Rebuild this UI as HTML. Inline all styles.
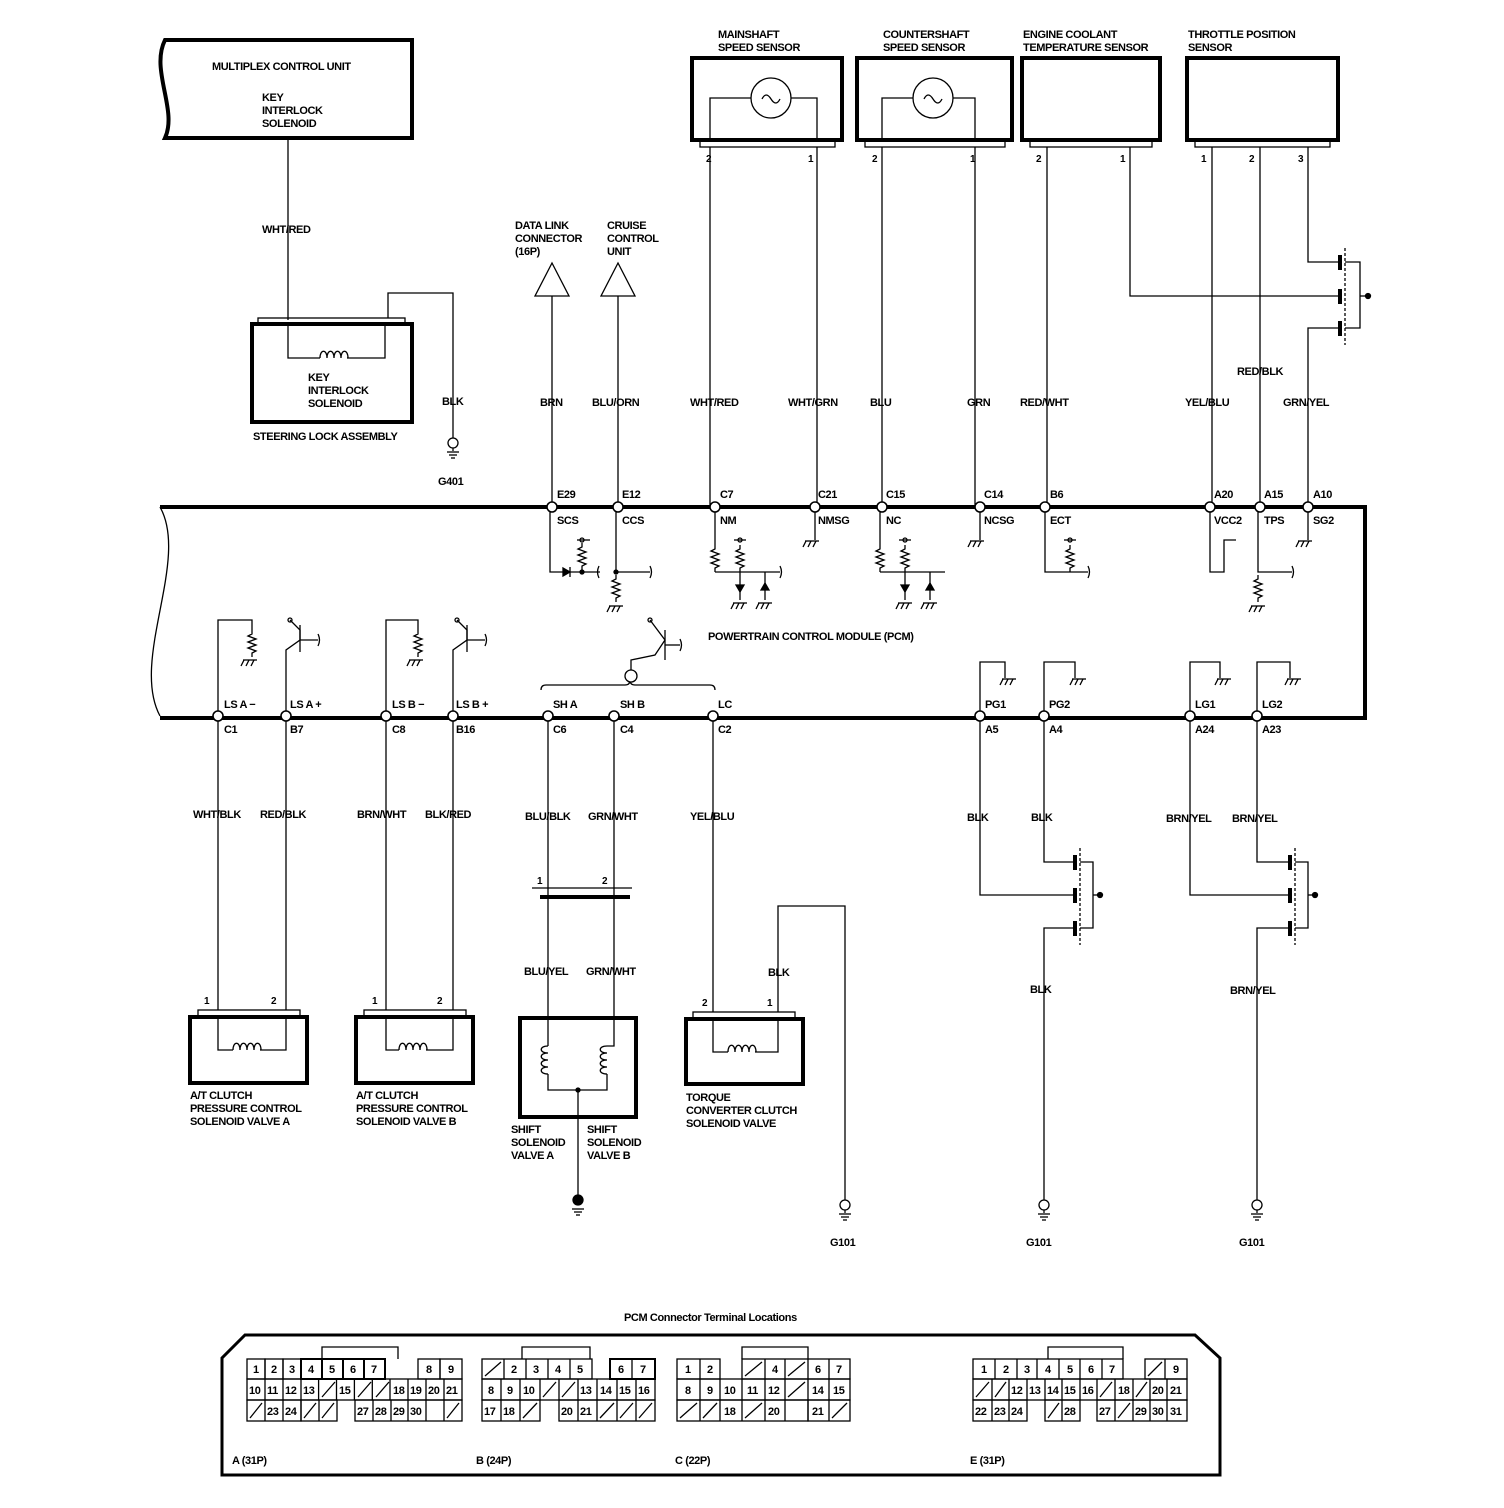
<!DOCTYPE html>
<html><head><meta charset="utf-8"><style>
html,body{margin:0;padding:0;background:#fff}
svg{display:block}
text{font-family:"Liberation Sans",sans-serif;font-weight:bold;font-size:11px;letter-spacing:-0.4px;fill:#000}
.n{font-size:10px}
</style></head><body>
<svg width="1504" height="1508" viewBox="0 0 1504 1508" xmlns="http://www.w3.org/2000/svg" fill="none" stroke="#000" stroke-width="1.3">
<defs>
<g id="gnd"><line x1="-7" y1="0" x2="7" y2="0"/><line x1="-6" y1="0" x2="-9" y2="6"/><line x1="-1" y1="0" x2="-4" y2="6"/><line x1="4" y1="0" x2="1" y2="6"/></g>
<g id="eg"><circle cx="0" cy="0" r="5" fill="#fff"/><line x1="0" y1="5" x2="0" y2="8"/><line x1="-6" y1="9" x2="6" y2="9"/><line x1="-4" y1="12" x2="4" y2="12"/><line x1="-2" y1="15" x2="2" y2="15"/></g>
<g id="res"><polyline points="0,0 0,4 -4,6 4,9 -4,12 4,15 -4,18 4,21 0,23 0,27"/></g>
<g id="coil"><path d="M-13,0 c0,-9 7,-9 7,0 c0,-9 7,-9 7,0 c0,-9 7,-9 7,0 c0,-9 7,-9 7,0"/></g>
<g id="vcoil"><path d="M0,-14 c-9,0 -9,7 0,7 c-9,0 -9,7 0,7 c-9,0 -9,7 0,7 c-9,0 -9,7 0,7"/></g>
<g id="nd"><circle cx="0" cy="0" r="5" fill="#fff" stroke-width="1.6"/></g>
</defs>

<!-- Multiplex control unit -->
<path d="M165,40 H412 V138 H165 C178,110 150,70 165,40 Z" stroke-width="4"/>
<text x="212" y="70" stroke="none">MULTIPLEX CONTROL UNIT</text>
<text x="262" y="101" stroke="none">KEY</text>
<text x="262" y="114" stroke="none">INTERLOCK</text>
<text x="262" y="127" stroke="none">SOLENOID</text>
<line x1="288" y1="138" x2="288" y2="320"/>
<text x="262" y="233" stroke="none">WHT/RED</text>

<!-- Steering lock -->
<rect x="252" y="324" width="160" height="98" stroke-width="4"/>
<rect x="258" y="318" width="147" height="6"/>
<polyline points="288,324 288,358 320,358"/>
<use href="#coil" x="333" y="358"/>
<polyline points="347,358 385,358 385,324"/>
<polyline points="388,318 388,293 453,293 453,438"/>
<text x="308" y="381" stroke="none">KEY</text>
<text x="308" y="394" stroke="none">INTERLOCK</text>
<text x="308" y="407" stroke="none">SOLENOID</text>
<text x="253" y="440" stroke="none">STEERING LOCK ASSEMBLY</text>
<text x="442" y="405" stroke="none">BLK</text>
<use href="#eg" x="453" y="443"/>
<text x="438" y="485" stroke="none">G401</text>

<!-- DLC & cruise -->
<text x="515" y="229" stroke="none">DATA LINK</text>
<text x="515" y="242" stroke="none">CONNECTOR</text>
<text x="515" y="255" stroke="none">(16P)</text>
<polygon points="552,263 535,296 569,296"/>
<line x1="552" y1="296" x2="552" y2="507"/>
<text x="607" y="229" stroke="none">CRUISE</text>
<text x="607" y="242" stroke="none">CONTROL</text>
<text x="607" y="255" stroke="none">UNIT</text>
<polygon points="618,263 601,296 635,296"/>
<line x1="618" y1="296" x2="618" y2="507"/>

<!-- Sensors -->
<text x="718" y="38" stroke="none">MAINSHAFT</text><text x="718" y="51" stroke="none">SPEED SENSOR</text>
<rect x="692" y="58" width="150" height="82" stroke-width="4"/>
<rect x="700" y="140" width="135" height="7"/>
<polyline points="710,140 710,98 751,98"/><circle cx="771" cy="98" r="20"/><path d="M762,99 q4,-8 9,0 q5,8 9,0"/>
<polyline points="791,98 817,98 817,140"/>
<text x="706" y="162" class="n" stroke="none">2</text><text x="808" y="162" class="n" stroke="none">1</text>

<text x="883" y="38" stroke="none">COUNTERSHAFT</text><text x="883" y="51" stroke="none">SPEED SENSOR</text>
<rect x="857" y="58" width="155" height="82" stroke-width="4"/>
<rect x="865" y="140" width="140" height="7"/>
<polyline points="882,140 882,98 913,98"/><circle cx="933" cy="98" r="20"/><path d="M924,99 q4,-8 9,0 q5,8 9,0"/>
<polyline points="953,98 975,98 975,140"/>
<text x="872" y="162" class="n" stroke="none">2</text><text x="970" y="162" class="n" stroke="none">1</text>

<text x="1023" y="38" stroke="none">ENGINE COOLANT</text><text x="1023" y="51" stroke="none">TEMPERATURE SENSOR</text>
<rect x="1022" y="58" width="138" height="82" stroke-width="4"/>
<rect x="1030" y="140" width="122" height="7"/>
<text x="1036" y="162" class="n" stroke="none">2</text><text x="1120" y="162" class="n" stroke="none">1</text>

<text x="1188" y="38" stroke="none">THROTTLE POSITION</text><text x="1188" y="51" stroke="none">SENSOR</text>
<rect x="1187" y="58" width="151" height="82" stroke-width="4"/>
<rect x="1195" y="140" width="135" height="7"/>
<text x="1201" y="162" class="n" stroke="none">1</text><text x="1249" y="162" class="n" stroke="none">2</text><text x="1298" y="162" class="n" stroke="none">3</text>

<!-- sensor wires -->
<line x1="710" y1="147" x2="710" y2="507"/>
<line x1="817" y1="147" x2="817" y2="507"/>
<line x1="882" y1="147" x2="882" y2="507"/>
<line x1="975" y1="147" x2="975" y2="507"/>
<line x1="1047" y1="147" x2="1047" y2="507"/>
<polyline points="1130,147 1130,296 1340,296"/>
<line x1="1212" y1="147" x2="1212" y2="507"/>
<line x1="1260" y1="147" x2="1260" y2="507"/>
<polyline points="1308,147 1308,262 1340,262"/>
<polyline points="1340,328 1308,328 1308,507"/>
<line x1="1345" y1="248" x2="1345" y2="345" stroke-dasharray="3,2"/>
<line x1="1340" y1="255" x2="1340" y2="270" stroke-width="4"/>
<line x1="1340" y1="289" x2="1340" y2="304" stroke-width="4"/>
<line x1="1340" y1="321" x2="1340" y2="336" stroke-width="4"/>
<polyline points="1345,262 1360,262 1360,328 1345,328"/>
<line x1="1360" y1="296" x2="1368" y2="296"/><circle cx="1368" cy="296" r="2.5" fill="#000"/>

<!-- upper wire labels -->
<text x="540" y="406" stroke="none">BRN</text>
<text x="592" y="406" stroke="none">BLU/ORN</text>
<text x="690" y="406" stroke="none">WHT/RED</text>
<text x="788" y="406" stroke="none">WHT/GRN</text>
<text x="870" y="406" stroke="none">BLU</text>
<text x="967" y="406" stroke="none">GRN</text>
<text x="1020" y="406" stroke="none">RED/WHT</text>
<text x="1185" y="406" stroke="none">YEL/BLU</text>
<text x="1237" y="375" stroke="none">RED/BLK</text>
<text x="1283" y="406" stroke="none">GRN/YEL</text>

<!-- PCM -->
<path d="M160,507 H1365 V718 H160" stroke-width="4"/>
<path d="M160,507 C190,560 130,660 160,716"/>
<text x="708" y="640" stroke="none">POWERTRAIN CONTROL MODULE (PCM)</text>

<!-- upper nodes -->
<g stroke="none">
<text x="557" y="498">E29</text><text x="557" y="524">SCS</text>
<text x="622" y="498">E12</text><text x="622" y="524">CCS</text>
<text x="720" y="498">C7</text><text x="720" y="524">NM</text>
<text x="818" y="498">C21</text><text x="818" y="524">NMSG</text>
<text x="886" y="498">C15</text><text x="886" y="524">NC</text>
<text x="984" y="498">C14</text><text x="984" y="524">NCSG</text>
<text x="1050" y="498">B6</text><text x="1050" y="524">ECT</text>
<text x="1214" y="498">A20</text><text x="1214" y="524">VCC2</text>
<text x="1264" y="498">A15</text><text x="1264" y="524">TPS</text>
<text x="1313" y="498">A10</text><text x="1313" y="524">SG2</text>
</g>
<use href="#nd" x="552" y="507"/><use href="#nd" x="618" y="507"/><use href="#nd" x="715" y="507"/>
<use href="#nd" x="815" y="507"/><use href="#nd" x="882" y="507"/><use href="#nd" x="980" y="507"/>
<use href="#nd" x="1045" y="507"/><use href="#nd" x="1210" y="507"/><use href="#nd" x="1260" y="507"/><use href="#nd" x="1308" y="507"/>

<!-- internal upper -->
<polyline points="550,512 550,572 600,572"/><path d="M599,566 q-3,6 0,12"/>
<polygon points="563,568 563,576 570,572" fill="#000"/><line x1="570" y1="567" x2="570" y2="577"/>
<use href="#res" x="582" y="543"/><line x1="577" y1="540" x2="590" y2="540"/><circle cx="582" cy="540" r="2"/><circle cx="582" cy="572" r="2" fill="#000"/>
<polyline points="616,512 616,572 650,572"/><path d="M650,566 q3,6 0,12"/><circle cx="616" cy="572" r="2" fill="#000"/>
<use href="#res" x="616" y="575"/><use href="#gnd" x="616" y="606"/>
<polyline points="715,512 715,545"/><use href="#res" x="715" y="545"/><polyline points="715,572 780,572"/><path d="M780,566 q3,6 0,12"/>
<use href="#res" x="740" y="545"/><line x1="734" y1="540" x2="746" y2="540"/><circle cx="740" cy="540" r="2"/>
<line x1="740" y1="572" x2="740" y2="600"/><polygon points="736,585 744,585 740,592" fill="#000"/><use href="#gnd" x="740" y="603"/>
<line x1="765" y1="572" x2="765" y2="600"/><polygon points="761,590 769,590 765,583" fill="#000"/><use href="#gnd" x="765" y="603"/>
<line x1="815" y1="512" x2="815" y2="540"/><use href="#gnd" x="812" y="541"/>
<polyline points="880,512 880,545"/><use href="#res" x="880" y="545"/><polyline points="880,572 945,572"/>
<use href="#res" x="905" y="545"/><line x1="899" y1="540" x2="911" y2="540"/><circle cx="905" cy="540" r="2"/>
<line x1="905" y1="572" x2="905" y2="600"/><polygon points="901,585 909,585 905,592" fill="#000"/><use href="#gnd" x="905" y="603"/>
<line x1="930" y1="572" x2="930" y2="600"/><polygon points="926,590 934,590 930,583" fill="#000"/><use href="#gnd" x="930" y="603"/>
<line x1="980" y1="512" x2="980" y2="540"/><use href="#gnd" x="977" y="541"/>
<polyline points="1045,512 1045,572 1088,572"/><path d="M1088,566 q3,6 0,12"/><use href="#res" x="1070" y="545"/><line x1="1064" y1="540" x2="1076" y2="540"/><circle cx="1070" cy="540" r="2"/>
<polyline points="1210,512 1210,572 1224,572 1224,540 1236,540"/>
<polyline points="1258,512 1258,572 1292,572"/><path d="M1292,566 q3,6 0,12"/><use href="#res" x="1258" y="575"/><use href="#gnd" x="1258" y="606"/>
<line x1="1308" y1="512" x2="1308" y2="540"/><use href="#gnd" x="1305" y="541"/>

<!-- lower nodes -->
<g stroke="none">
<text x="224" y="708">LS A −</text><text x="224" y="733">C1</text>
<text x="290" y="708">LS A +</text><text x="290" y="733">B7</text>
<text x="392" y="708">LS B −</text><text x="392" y="733">C8</text>
<text x="456" y="708">LS B +</text><text x="456" y="733">B16</text>
<text x="553" y="708">SH A</text><text x="553" y="733">C6</text>
<text x="620" y="708">SH B</text><text x="620" y="733">C4</text>
<text x="718" y="708">LC</text><text x="718" y="733">C2</text>
<text x="985" y="708">PG1</text><text x="985" y="733">A5</text>
<text x="1049" y="708">PG2</text><text x="1049" y="733">A4</text>
<text x="1195" y="708">LG1</text><text x="1195" y="733">A24</text>
<text x="1262" y="708">LG2</text><text x="1262" y="733">A23</text>
</g>
<use href="#nd" x="218" y="716"/><use href="#nd" x="286" y="716"/><use href="#nd" x="386" y="716"/><use href="#nd" x="453" y="716"/>
<use href="#nd" x="548" y="716"/><use href="#nd" x="614" y="716"/><use href="#nd" x="713" y="716"/>
<use href="#nd" x="980" y="716"/><use href="#nd" x="1044" y="716"/><use href="#nd" x="1190" y="716"/><use href="#nd" x="1257" y="716"/>

<!-- internal lower -->
<polyline points="218,711 218,620 252,620 252,630"/><use href="#res" x="252" y="630"/><use href="#gnd" x="250" y="660"/>
<polyline points="286,711 286,650 300,640 300,630 290,620"/><circle cx="290" cy="620" r="2"/><line x1="300" y1="625" x2="300" y2="652"/><line x1="300" y1="640" x2="318" y2="640"/><path d="M318,634 q3,6 0,12"/>
<polyline points="386,711 386,620 418,620 418,630"/><use href="#res" x="418" y="630"/><use href="#gnd" x="416" y="660"/>
<polyline points="453,711 453,650 467,640 467,630 457,620"/><circle cx="457" cy="620" r="2"/><line x1="467" y1="625" x2="467" y2="652"/><line x1="467" y1="640" x2="485" y2="640"/><path d="M485,634 q3,6 0,12"/>
<path d="M541,690 q0,-5 5,-5 H625 q5,0 5,-5 q0,5 5,5 H710 q5,0 5,5"/>
<circle cx="631" cy="676" r="6" fill="#fff"/>
<polyline points="631,670 631,660 655,655 665,640 650,620"/><circle cx="650" cy="620" r="2"/><line x1="665" y1="630" x2="665" y2="660"/><line x1="665" y1="645" x2="680" y2="645"/><path d="M680,639 q3,6 0,12"/>
<polyline points="980,711 980,662 1005,662 1005,678"/><use href="#gnd" x="1009" y="679"/>
<polyline points="1044,711 1044,662 1075,662 1075,678"/><use href="#gnd" x="1079" y="679"/>
<polyline points="1190,711 1190,662 1220,662 1220,678"/><use href="#gnd" x="1224" y="679"/>
<polyline points="1257,711 1257,662 1290,662 1290,678"/><use href="#gnd" x="1294" y="679"/>

<!-- lower wires -->
<line x1="218" y1="721" x2="218" y2="1010"/>
<line x1="286" y1="721" x2="286" y2="1010"/>
<line x1="386" y1="721" x2="386" y2="1010"/>
<line x1="453" y1="721" x2="453" y2="1010"/>
<line x1="548" y1="721" x2="548" y2="1017"/>
<line x1="614" y1="721" x2="614" y2="1017"/>
<line x1="713" y1="721" x2="713" y2="1012"/>
<g stroke="none">
<text x="193" y="818">WHT/BLK</text><text x="260" y="818">RED/BLK</text>
<text x="357" y="818">BRN/WHT</text><text x="425" y="818">BLK/RED</text>
<text x="525" y="820">BLU/BLK</text><text x="588" y="820">GRN/WHT</text>
<text x="690" y="820">YEL/BLU</text>
<text x="967" y="821">BLK</text><text x="1031" y="821">BLK</text>
<text x="1166" y="822">BRN/YEL</text><text x="1232" y="822">BRN/YEL</text>
<text x="524" y="975">BLU/YEL</text><text x="586" y="975">GRN/WHT</text>
<text x="768" y="976">BLK</text>
<text x="1030" y="993">BLK</text><text x="1230" y="994">BRN/YEL</text>
<text x="537" y="884" class="n">1</text><text x="602" y="884" class="n">2</text>
</g>
<line x1="532" y1="888" x2="632" y2="888"/>
<line x1="540" y1="897" x2="630" y2="897" stroke-width="4"/>

<!-- A/T A -->
<rect x="198" y="1010" width="102" height="7"/>
<rect x="190" y="1017" width="117" height="66" stroke-width="4"/>
<polyline points="218,1017 218,1050 233,1050"/><use href="#coil" x="246" y="1050"/><polyline points="260,1050 286,1050 286,1017"/>
<text x="204" y="1004" class="n" stroke="none">1</text><text x="271" y="1004" class="n" stroke="none">2</text>
<g stroke="none"><text x="190" y="1099">A/T CLUTCH</text><text x="190" y="1112">PRESSURE CONTROL</text><text x="190" y="1125">SOLENOID VALVE A</text></g>
<!-- A/T B -->
<rect x="364" y="1010" width="102" height="7"/>
<rect x="356" y="1017" width="117" height="66" stroke-width="4"/>
<polyline points="386,1017 386,1050 399,1050"/><use href="#coil" x="412" y="1050"/><polyline points="426,1050 453,1050 453,1017"/>
<text x="372" y="1004" class="n" stroke="none">1</text><text x="437" y="1004" class="n" stroke="none">2</text>
<g stroke="none"><text x="356" y="1099">A/T CLUTCH</text><text x="356" y="1112">PRESSURE CONTROL</text><text x="356" y="1125">SOLENOID VALVE B</text></g>
<!-- Shift -->
<rect x="520" y="1018" width="116" height="99" stroke-width="4"/>
<polyline points="548,1018 548,1046"/><use href="#vcoil" x="548" y="1060"/><polyline points="548,1074 548,1090 607,1090 607,1074"/>
<use href="#vcoil" x="607" y="1060"/><polyline points="607,1046 614,1046 614,1018"/><circle cx="578" cy="1090" r="2" fill="#000"/>
<line x1="578" y1="1090" x2="578" y2="1200"/><circle cx="578" cy="1200" r="5" fill="#000"/>
<line x1="572" y1="1209" x2="584" y2="1209"/><line x1="574" y1="1212" x2="582" y2="1212"/><line x1="576" y1="1215" x2="580" y2="1215"/>
<g stroke="none"><text x="511" y="1133">SHIFT</text><text x="511" y="1146">SOLENOID</text><text x="511" y="1159">VALVE A</text>
<text x="587" y="1133">SHIFT</text><text x="587" y="1146">SOLENOID</text><text x="587" y="1159">VALVE B</text></g>
<!-- Torque -->
<rect x="693" y="1012" width="102" height="7"/>
<rect x="686" y="1019" width="117" height="65" stroke-width="4"/>
<polyline points="713,1019 713,1052 728,1052"/><use href="#coil" x="741" y="1052"/><polyline points="755,1052 778,1052 778,1019"/>
<polyline points="778,1012 778,906 845,906 845,1200"/>
<text x="702" y="1006" class="n" stroke="none">2</text><text x="767" y="1006" class="n" stroke="none">1</text>
<g stroke="none"><text x="686" y="1101">TORQUE</text><text x="686" y="1114">CONVERTER CLUTCH</text><text x="686" y="1127">SOLENOID VALVE</text></g>
<use href="#eg" x="845" y="1205"/><text x="830" y="1246" stroke="none">G101</text>

<!-- PG ground -->
<polyline points="980,721 980,895 1075,895"/>
<polyline points="1044,721 1044,862 1075,862"/>
<polyline points="1075,928 1044,928 1044,1200"/>
<line x1="1080" y1="848" x2="1080" y2="945" stroke-dasharray="3,2"/>
<line x1="1075" y1="855" x2="1075" y2="870" stroke-width="4"/><line x1="1075" y1="888" x2="1075" y2="903" stroke-width="4"/><line x1="1075" y1="921" x2="1075" y2="936" stroke-width="4"/>
<polyline points="1080,862 1093,862 1093,928 1080,928"/><line x1="1093" y1="895" x2="1100" y2="895"/><circle cx="1100" cy="895" r="2.5" fill="#000"/>
<use href="#eg" x="1044" y="1205"/><text x="1026" y="1246" stroke="none">G101</text>
<!-- LG ground -->
<polyline points="1190,721 1190,895 1290,895"/>
<polyline points="1257,721 1257,862 1290,862"/>
<polyline points="1290,928 1257,928 1257,1200"/>
<line x1="1295" y1="848" x2="1295" y2="945" stroke-dasharray="3,2"/>
<line x1="1290" y1="855" x2="1290" y2="870" stroke-width="4"/><line x1="1290" y1="888" x2="1290" y2="903" stroke-width="4"/><line x1="1290" y1="921" x2="1290" y2="936" stroke-width="4"/>
<polyline points="1295,862 1308,862 1308,928 1295,928"/><line x1="1308" y1="895" x2="1315" y2="895"/><circle cx="1315" cy="895" r="2.5" fill="#000"/>
<use href="#eg" x="1257" y="1205"/><text x="1239" y="1246" stroke="none">G101</text>

<!-- Connector terminal locations -->
<text x="624" y="1321" stroke="none">PCM Connector Terminal Locations</text>
<path d="M245,1335 H1195 L1220,1358 V1475 H222 V1358 Z" stroke-width="3"/>
<g stroke="none"><text x="232" y="1464">A (31P)</text><text x="476" y="1464">B (24P)</text><text x="675" y="1464">C (22P)</text><text x="970" y="1464">E (31P)</text></g>

<g class="n">
<!-- A connector -->
<polyline points="322,1359 322,1347 398,1347 398,1359"/>
<g>
<rect x="247" y="1359" width="18" height="20"/><rect x="265" y="1359" width="18" height="20"/><rect x="283" y="1359" width="18" height="20"/>
<rect x="301" y="1359" width="21" height="20" stroke-width="2"/><rect x="322" y="1359" width="21" height="20" stroke-width="2"/><rect x="343" y="1359" width="21" height="20" stroke-width="2"/><rect x="364" y="1359" width="21" height="20" stroke-width="2"/>
<rect x="418" y="1359" width="22" height="20"/><rect x="440" y="1359" width="22" height="20"/>
<rect x="247" y="1379" width="215" height="21"/>
<path d="M265,1379 V1400 M283,1379 V1400 M301,1379 V1400 M318.6,1379 V1400 M336.5,1379 V1400 M354.4,1379 V1400 M372.3,1379 V1400 M390,1379 V1400 M408,1379 V1400 M426,1379 V1400 M444,1379 V1400"/>
<path d="M322,1397 L335,1382 M358,1397 L371,1382 M376,1397 L389,1382"/>
<rect x="247" y="1400" width="54" height="21"/><path d="M265,1400 V1421 M283,1400 V1421 M250,1418 L262,1403"/>
<rect x="301" y="1400" width="36" height="21"/><path d="M319,1400 V1421 M304,1418 L316,1403 M322,1418 L334,1403"/>
<rect x="355" y="1400" width="107" height="21"/><path d="M373,1400 V1421 M391,1400 V1421 M408,1400 V1421 M426,1400 V1421 M444,1400 V1421 M447,1418 L459,1403"/>
</g>
<g stroke="none">
<text x="253" y="1373">1</text><text x="271" y="1373">2</text><text x="289" y="1373">3</text><text x="308" y="1373">4</text><text x="329" y="1373">5</text><text x="350" y="1373">6</text><text x="371" y="1373">7</text><text x="426" y="1373">8</text><text x="448" y="1373">9</text>
<text x="249" y="1394">10</text><text x="267" y="1394">11</text><text x="285" y="1394">12</text><text x="303" y="1394">13</text><text x="339" y="1394">15</text><text x="393" y="1394">18</text><text x="410" y="1394">19</text><text x="428" y="1394">20</text><text x="446" y="1394">21</text>
<text x="267" y="1415">23</text><text x="285" y="1415">24</text><text x="357" y="1415">27</text><text x="375" y="1415">28</text><text x="393" y="1415">29</text><text x="410" y="1415">30</text>
</g>

<!-- B connector -->
<polyline points="522,1359 522,1347 590,1347 590,1359"/>
<rect x="482" y="1359" width="110" height="20"/><path d="M504,1359 V1379 M526,1359 V1379 M548,1359 V1379 M570,1359 V1379 M485,1376 L501,1362"/>
<rect x="610" y="1359" width="45" height="20" stroke-width="2"/><path d="M632,1359 V1379"/>
<rect x="482" y="1379" width="173" height="21"/><path d="M501,1379 V1400 M520,1379 V1400 M540,1379 V1400 M559,1379 V1400 M578,1379 V1400 M597,1379 V1400 M617,1379 V1400 M636,1379 V1400 M543,1397 L556,1382 M562,1397 L575,1382"/>
<rect x="482" y="1400" width="58" height="21"/><path d="M501,1400 V1421 M520,1400 V1421 M523,1418 L537,1403"/>
<rect x="559" y="1400" width="96" height="21"/><path d="M578,1400 V1421 M597,1400 V1421 M617,1400 V1421 M636,1400 V1421 M600,1418 L614,1403 M620,1418 L633,1403 M639,1418 L652,1403"/>
<g stroke="none">
<text x="511" y="1373">2</text><text x="533" y="1373">3</text><text x="555" y="1373">4</text><text x="577" y="1373">5</text><text x="618" y="1373">6</text><text x="640" y="1373">7</text>
<text x="488" y="1394">8</text><text x="507" y="1394">9</text><text x="523" y="1394">10</text><text x="580" y="1394">13</text><text x="600" y="1394">14</text><text x="619" y="1394">15</text><text x="638" y="1394">16</text>
<text x="484" y="1415">17</text><text x="503" y="1415">18</text><text x="561" y="1415">20</text><text x="580" y="1415">21</text>
</g>

<!-- C connector -->
<polyline points="742,1359 742,1347 808,1347 808,1359"/>
<rect x="677" y="1359" width="43" height="20"/><path d="M700,1359 V1379"/>
<rect x="742" y="1359" width="108" height="20"/><path d="M765,1359 V1379 M785,1359 V1379 M808,1359 V1379 M829,1359 V1379 M745,1376 L762,1362 M788,1376 L805,1362"/>
<rect x="677" y="1379" width="173" height="21"/><path d="M700,1379 V1400 M720,1379 V1400 M742,1379 V1400 M765,1379 V1400 M785,1379 V1400 M808,1379 V1400 M829,1379 V1400 M788,1397 L805,1382"/>
<rect x="677" y="1400" width="131" height="21"/><path d="M700,1400 V1421 M720,1400 V1421 M742,1400 V1421 M765,1400 V1421 M785,1400 V1421 M680,1418 L697,1403 M703,1418 L717,1403 M745,1418 L762,1403"/>
<rect x="808" y="1400" width="42" height="21"/><path d="M829,1400 V1421 M832,1418 L847,1403"/>
<g stroke="none">
<text x="685" y="1373">1</text><text x="707" y="1373">2</text><text x="772" y="1373">4</text><text x="815" y="1373">6</text><text x="836" y="1373">7</text>
<text x="685" y="1394">8</text><text x="707" y="1394">9</text><text x="724" y="1394">10</text><text x="747" y="1394">11</text><text x="768" y="1394">12</text><text x="812" y="1394">14</text><text x="833" y="1394">15</text>
<text x="724" y="1415">18</text><text x="768" y="1415">20</text><text x="812" y="1415">21</text>
</g>

<!-- E connector -->
<polyline points="1048,1359 1048,1347 1123,1347 1123,1359"/>
<rect x="973" y="1359" width="150" height="20"/><path d="M995,1359 V1379 M1017,1359 V1379 M1037,1359 V1379 M1059,1359 V1379 M1080,1359 V1379 M1102,1359 V1379"/>
<rect x="1145" y="1359" width="42" height="20"/><path d="M1165,1359 V1379 M1148,1376 L1162,1362"/>
<rect x="973" y="1379" width="214" height="21"/><path d="M992,1379 V1400 M1009,1379 V1400 M1027,1379 V1400 M1045,1379 V1400 M1062,1379 V1400 M1080,1379 V1400 M1097,1379 V1400 M1115,1379 V1400 M1133,1379 V1400 M1150,1379 V1400 M1167,1379 V1400 M976,1397 L989,1382 M995,1397 L1006,1382 M1100,1397 L1112,1382 M1136,1397 L1147,1382"/>
<rect x="973" y="1400" width="54" height="21"/><path d="M992,1400 V1421 M1009,1400 V1421"/>
<rect x="1045" y="1400" width="35" height="21"/><path d="M1062,1400 V1421 M1048,1418 L1059,1403"/>
<rect x="1097" y="1400" width="90" height="21"/><path d="M1115,1400 V1421 M1133,1400 V1421 M1150,1400 V1421 M1167,1400 V1421 M1118,1418 L1130,1403"/>
<g stroke="none">
<text x="981" y="1373">1</text><text x="1003" y="1373">2</text><text x="1024" y="1373">3</text><text x="1045" y="1373">4</text><text x="1067" y="1373">5</text><text x="1088" y="1373">6</text><text x="1109" y="1373">7</text><text x="1173" y="1373">9</text>
<text x="1011" y="1394">12</text><text x="1029" y="1394">13</text><text x="1047" y="1394">14</text><text x="1064" y="1394">15</text><text x="1082" y="1394">16</text><text x="1118" y="1394">18</text><text x="1152" y="1394">20</text><text x="1170" y="1394">21</text>
<text x="975" y="1415">22</text><text x="994" y="1415">23</text><text x="1011" y="1415">24</text><text x="1064" y="1415">28</text><text x="1099" y="1415">27</text><text x="1135" y="1415">29</text><text x="1152" y="1415">30</text><text x="1170" y="1415">31</text>
</g>
</g>
</svg>
</body></html>
